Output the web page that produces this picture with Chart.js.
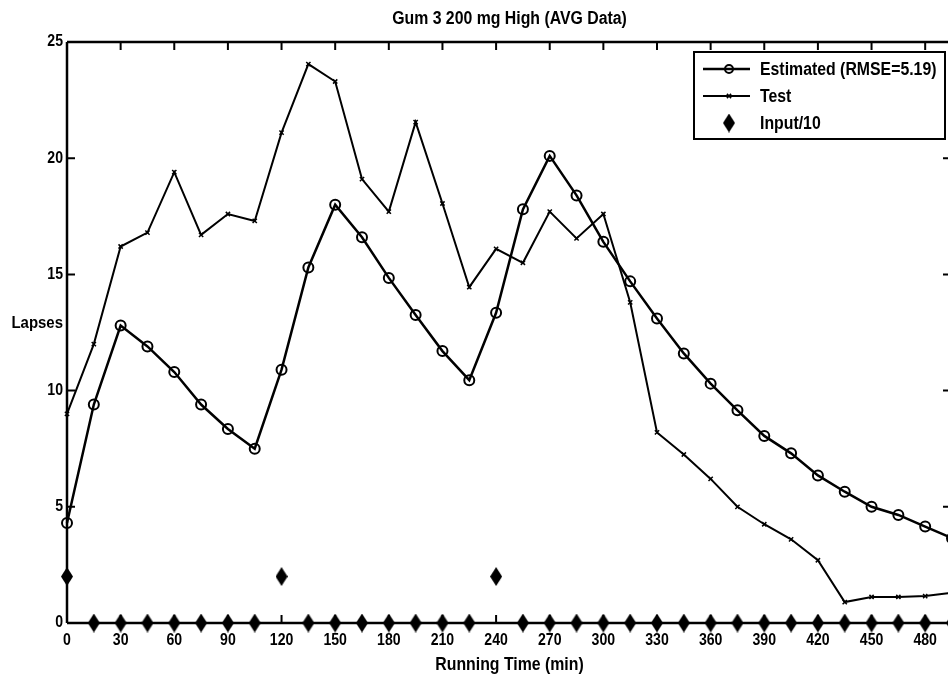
<!DOCTYPE html>
<html>
<head>
<meta charset="utf-8">
<script src="https://cdn.jsdelivr.net/npm/chart.js@4/dist/chart.umd.min.js"></script>
<style>
  body { margin: 0; background: #fff; overflow: hidden; }
  canvas { display: block; }
</style>
</head>
<body>
<canvas id="chart" width="959" height="677"></canvas>
<script>
const FONT = '"Liberation Sans", Arial, sans-serif';
const SQUEEZE = 0.88;  // the original uses a narrow bold face

// Running time (min), sampled every 15 min
const times = [0, 15, 30, 45, 60, 75, 90, 105, 120, 135, 150, 165, 180, 195, 210, 225, 240,
               255, 270, 285, 300, 315, 330, 345, 360, 375, 390, 405, 420, 435, 450, 465, 480, 495];

const estimated = [4.3, 9.4, 12.8, 11.9, 10.8, 9.4, 8.35, 7.5, 10.9, 15.3, 18.0, 16.6, 14.85, 13.25, 11.7, 10.45, 13.35,
                   17.8, 20.1, 18.4, 16.4, 14.7, 13.1, 11.6, 10.3, 9.15, 8.05, 7.3, 6.35, 5.65, 5.0, 4.65, 4.15, 3.65];

const test = [9.0, 12.0, 16.2, 16.8, 19.4, 16.7, 17.6, 17.3, 21.1, 24.05, 23.3, 19.1, 17.7, 21.55, 18.05, 14.45, 16.1,
              15.5, 17.7, 16.55, 17.6, 13.8, 8.2, 7.25, 6.2, 5.0, 4.25, 3.6, 2.7, 0.9, 1.12, 1.12, 1.16, 1.3];

const input10 = [2, 0, 0, 0, 0, 0, 0, 0, 2, 0, 0, 0, 0, 0, 0, 0, 2,
                 0, 0, 0, 0, 0, 0, 0, 0, 0, 0, 0, 0, 0, 0, 0, 0, 0];

const xTicks = [0, 30, 60, 90, 120, 150, 180, 210, 240, 270, 300, 330, 360, 390, 420, 450, 480];
const yTicks = [0, 5, 10, 15, 20, 25];

const seriesLabels = ['Estimated (RMSE=5.19)', 'Test', 'Input/10'];
const titleText = 'Gum 3 200 mg High (AVG Data)';
const xTitle = 'Running Time (min)';
const yTitle = 'Lapses';

// tall diamond marker like the reference
function makeDiamond(w, h) {
    const c = document.createElement('canvas');
    c.width = w; c.height = h;
    const g = c.getContext('2d');
    g.fillStyle = '#000';
    g.beginPath();
    g.moveTo(w / 2, 0);
    g.lineTo(w, h / 2);
    g.lineTo(w / 2, h);
    g.lineTo(0, h / 2);
    g.closePath();
    g.fill();
    return c;
}
const diamond = makeDiamond(12, 19);

function pts(ys) {
    return times.map((t, i) => ({ x: t, y: ys[i] }));
}

// bold text squeezed horizontally
function narrowText(ctx, text, x, y, size, align) {
    ctx.save();
    ctx.font = 'bold ' + size + 'px ' + FONT;
    ctx.textAlign = align;
    ctx.textBaseline = 'middle';
    ctx.fillStyle = '#000';
    ctx.translate(x, y);
    ctx.scale(SQUEEZE, 1);
    ctx.fillText(text, 0, 0);
    ctx.restore();
}

// frame with inward ticks on all four sides, tick labels, title and axis labels
const framePlugin = {
    id: 'frame',
    beforeDatasetsDraw(chart) {
        const { ctx, chartArea: a, scales } = chart;
        ctx.save();
        ctx.strokeStyle = '#000';
        ctx.lineWidth = 2.5;
        ctx.beginPath();
        ctx.moveTo(a.left, a.bottom); ctx.lineTo(a.right, a.bottom);
        ctx.moveTo(a.left, a.top); ctx.lineTo(a.right, a.top);
        ctx.moveTo(a.left, a.top); ctx.lineTo(a.left, a.bottom);
        ctx.moveTo(a.right, a.top); ctx.lineTo(a.right, a.bottom);
        ctx.stroke();
        ctx.lineWidth = 2;
        ctx.beginPath();
        xTicks.forEach(v => {
            const px = scales.x.getPixelForValue(v);
            ctx.moveTo(px, a.bottom); ctx.lineTo(px, a.bottom - 8);
            ctx.moveTo(px, a.top); ctx.lineTo(px, a.top + 8);
        });
        yTicks.forEach(v => {
            const py = scales.y.getPixelForValue(v);
            ctx.moveTo(a.left, py); ctx.lineTo(a.left + 8, py);
            ctx.moveTo(a.right, py); ctx.lineTo(a.right - 9, py);
        });
        ctx.stroke();
        ctx.restore();

        xTicks.forEach(v => narrowText(ctx, String(v), scales.x.getPixelForValue(v), a.bottom + 18, 16, 'center'));
        yTicks.forEach(v => narrowText(ctx, String(v), a.left - 4, scales.y.getPixelForValue(v), 16, 'right'));

        narrowText(ctx, titleText, (a.left + a.right) / 2, 19, 18, 'center');
        narrowText(ctx, xTitle, (a.left + a.right) / 2, 665, 18, 'center');
        narrowText(ctx, yTitle, a.left - 4, 323, 17, 'right');
    },
    afterDraw(chart) {
        // legend box in the upper right corner
        const { ctx } = chart;
        const ds = chart.data.datasets;
        const bx = 694, by = 52, bw = 251, bh = 87;
        ctx.save();
        ctx.fillStyle = '#fff';
        ctx.fillRect(bx, by, bw, bh);
        ctx.strokeStyle = '#000';
        ctx.lineWidth = 2;
        ctx.strokeRect(bx, by, bw, bh);
        ds.forEach((d, i) => {
            const y = 69 + i * 27;
            ctx.strokeStyle = '#000';
            if (d.showLine !== false) {
                ctx.lineWidth = d.borderWidth;
                ctx.beginPath();
                ctx.moveTo(703, y); ctx.lineTo(750, y);
                ctx.stroke();
            }
            ctx.fillStyle = 'rgba(0,0,0,0)';
            ctx.lineWidth = d.pointBorderWidth;
            Chart.helpers.drawPoint(ctx, {
                pointStyle: d.pointStyle,
                radius: i === 0 ? 4 : d.pointRadius,
                borderWidth: d.pointBorderWidth
            }, 729, y);
            narrowText(ctx, d.label, 760, y + 1, 18, 'left');
        });
        ctx.restore();
    }
};

new Chart(document.getElementById('chart'), {
    type: 'line',
    data: {
        datasets: [{
            label: seriesLabels[0],
            data: pts(estimated),
            borderColor: '#000',
            borderWidth: 2.5,
            pointStyle: 'circle',
            pointRadius: 5,
            pointBorderWidth: 2,
            pointBackgroundColor: 'rgba(0,0,0,0)',
            pointBorderColor: '#000',
            tension: 0,
            clip: false
        }, {
            label: seriesLabels[1],
            data: pts(test),
            borderColor: '#000',
            borderWidth: 2,
            pointStyle: 'crossRot',
            pointRadius: 3,
            pointBorderWidth: 1.5,
            pointBorderColor: '#000',
            tension: 0,
            clip: false
        }, {
            label: seriesLabels[2],
            data: pts(input10),
            showLine: false,
            borderColor: '#000',
            borderWidth: 0,
            pointStyle: diamond,
            pointRadius: 6,
            pointBorderWidth: 0,
            clip: false
        }]
    },
    options: {
        responsive: false,
        animation: false,
        layout: { padding: { top: 42, left: 0, right: 0, bottom: 0 } },
        plugins: {
            legend: { display: false },
            title: { display: false },
            tooltip: { enabled: false }
        },
        scales: {
            x: {
                type: 'linear',
                min: 0,
                max: 495,
                grid: { display: false, drawTicks: false },
                border: { display: false },
                ticks: { display: false },
                afterFit(scale) { scale.height = 54; }
            },
            y: {
                min: 0,
                max: 25,
                grid: { display: false, drawTicks: false },
                border: { display: false },
                ticks: { display: false },
                afterFit(scale) { scale.width = 67; }
            }
        }
    },
    plugins: [framePlugin]
});
</script>
</body>
</html>
